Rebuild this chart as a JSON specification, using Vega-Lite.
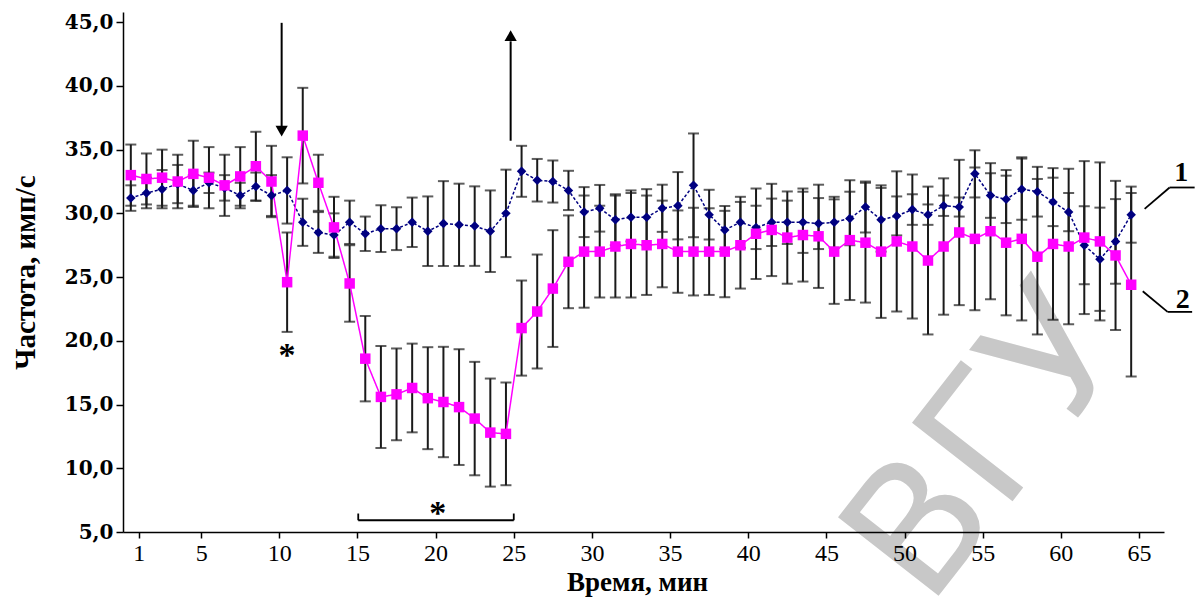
{
 "$schema": "https://vega.github.io/schema/vega-lite/v6.json",
 "width": 1041,
 "height": 520,
 "autosize": {"type": "none"},
 "padding": {"left": 123, "top": 12, "right": 34, "bottom": 67},
 "background": "white",
 "config": {"view": {"stroke": null}},
 "datasets": {
  "d": [
   {"t":0.5,"s":"1","m":31.2,"sd":1.0},{"t":1.5,"s":"1","m":31.6,"sd":1.2},{"t":2.5,"s":"1","m":31.9,"sd":1.5},{"t":3.5,"s":"1","m":32.3,"sd":1.5},{"t":4.5,"s":"1","m":31.8,"sd":1.2},
   {"t":5.5,"s":"1","m":32.4,"sd":0.8},{"t":6.5,"s":"1","m":32.0,"sd":1.0},{"t":7.5,"s":"1","m":31.4,"sd":1.0},{"t":8.5,"s":"1","m":32.1,"sd":1.1},{"t":9.5,"s":"1","m":31.4,"sd":1.6},
   {"t":10.5,"s":"1","m":31.8,"sd":2.6},{"t":11.5,"s":"1","m":29.3,"sd":1.85},{"t":12.5,"s":"1","m":28.5,"sd":1.6},{"t":13.5,"s":"1","m":28.3,"sd":1.7},{"t":14.5,"s":"1","m":29.3,"sd":1.7},
   {"t":15.5,"s":"1","m":28.4,"sd":1.35},{"t":16.5,"s":"1","m":28.8,"sd":1.83},{"t":17.5,"s":"1","m":28.8,"sd":1.68},{"t":18.5,"s":"1","m":29.3,"sd":1.94},{"t":19.5,"s":"1","m":28.6,"sd":2.73},
   {"t":20.5,"s":"1","m":29.2,"sd":3.33},{"t":21.5,"s":"1","m":29.1,"sd":3.23},{"t":22.5,"s":"1","m":29.0,"sd":3.12},{"t":23.5,"s":"1","m":28.6,"sd":3.2},{"t":24.5,"s":"1","m":30.0,"sd":3.43},
   {"t":25.5,"s":"1","m":33.3,"sd":2.0},{"t":26.5,"s":"1","m":32.6,"sd":1.67},{"t":27.5,"s":"1","m":32.5,"sd":1.65},{"t":28.5,"s":"1","m":31.8,"sd":1.54},{"t":29.5,"s":"1","m":30.1,"sd":1.96},
   {"t":30.5,"s":"1","m":30.4,"sd":1.83},{"t":31.5,"s":"1","m":29.5,"sd":2.0},{"t":32.5,"s":"1","m":29.7,"sd":1.9},{"t":33.5,"s":"1","m":29.7,"sd":2.2},{"t":34.5,"s":"1","m":30.4,"sd":1.85},
   {"t":35.5,"s":"1","m":30.6,"sd":2.64},{"t":36.5,"s":"1","m":32.2,"sd":4.07},{"t":37.5,"s":"1","m":29.9,"sd":1.95},{"t":38.5,"s":"1","m":28.7,"sd":1.5},{"t":39.5,"s":"1","m":29.3,"sd":2.0},
   {"t":40.5,"s":"1","m":28.9,"sd":1.7},{"t":41.5,"s":"1","m":29.3,"sd":1.86},{"t":42.5,"s":"1","m":29.3,"sd":1.7},{"t":43.5,"s":"1","m":29.3,"sd":2.4},{"t":44.5,"s":"1","m":29.2,"sd":2.0},
   {"t":45.5,"s":"1","m":29.3,"sd":2.0},{"t":46.5,"s":"1","m":29.6,"sd":2.1},{"t":47.5,"s":"1","m":30.5,"sd":2.0},{"t":48.5,"s":"1","m":29.5,"sd":2.5},{"t":49.5,"s":"1","m":29.8,"sd":1.53},
   {"t":50.5,"s":"1","m":30.3,"sd":1.2},{"t":51.5,"s":"1","m":29.9,"sd":0.8},{"t":52.5,"s":"1","m":30.6,"sd":0.8},{"t":53.5,"s":"1","m":30.5,"sd":0.75},{"t":54.5,"s":"1","m":33.1,"sd":1.85},
   {"t":55.5,"s":"1","m":31.4,"sd":1.75},{"t":56.5,"s":"1","m":31.1,"sd":1.86},{"t":57.5,"s":"1","m":31.9,"sd":2.4},{"t":58.5,"s":"1","m":31.7,"sd":1.95},{"t":59.5,"s":"1","m":30.9,"sd":1.9},
   {"t":60.5,"s":"1","m":30.1,"sd":1.5},{"t":61.5,"s":"1","m":27.5,"sd":3.06},{"t":62.5,"s":"1","m":26.4,"sd":4.05},{"t":63.5,"s":"1","m":27.8,"sd":3.32},{"t":64.5,"s":"1","m":29.9,"sd":2.2},
   {"t":0.5,"s":"2","m":33.0,"sd":2.4},{"t":1.5,"s":"2","m":32.7,"sd":2.0},{"t":2.5,"s":"2","m":32.8,"sd":2.2},{"t":3.5,"s":"2","m":32.5,"sd":2.1},{"t":4.5,"s":"2","m":33.1,"sd":2.6},
   {"t":5.5,"s":"2","m":32.8,"sd":2.4},{"t":6.5,"s":"2","m":32.2,"sd":2.4},{"t":7.5,"s":"2","m":32.9,"sd":2.3},{"t":8.5,"s":"2","m":33.7,"sd":2.7},{"t":9.5,"s":"2","m":32.5,"sd":2.8},
   {"t":10.5,"s":"2","m":24.6,"sd":3.9},{"t":11.5,"s":"2","m":36.1,"sd":3.75},{"t":12.5,"s":"2","m":32.4,"sd":2.2},{"t":13.5,"s":"2","m":28.9,"sd":2.4},{"t":14.5,"s":"2","m":24.5,"sd":3.0},
   {"t":15.5,"s":"2","m":18.6,"sd":3.35},{"t":16.5,"s":"2","m":15.6,"sd":4.0},{"t":17.5,"s":"2","m":15.8,"sd":3.6},{"t":18.5,"s":"2","m":16.3,"sd":3.48},{"t":19.5,"s":"2","m":15.5,"sd":4.0},
   {"t":20.5,"s":"2","m":15.2,"sd":4.33},{"t":21.5,"s":"2","m":14.8,"sd":4.54},{"t":22.5,"s":"2","m":13.9,"sd":4.45},{"t":23.5,"s":"2","m":12.8,"sd":4.24},{"t":24.5,"s":"2","m":12.7,"sd":4.03},
   {"t":25.5,"s":"2","m":21.0,"sd":3.73},{"t":26.5,"s":"2","m":22.3,"sd":4.47},{"t":27.5,"s":"2","m":24.1,"sd":4.58},{"t":28.5,"s":"2","m":26.2,"sd":3.64},{"t":29.5,"s":"2","m":27.0,"sd":4.4},
   {"t":30.5,"s":"2","m":27.0,"sd":3.6},{"t":31.5,"s":"2","m":27.4,"sd":4.0},{"t":32.5,"s":"2","m":27.6,"sd":4.2},{"t":33.5,"s":"2","m":27.5,"sd":3.9},{"t":34.5,"s":"2","m":27.6,"sd":3.4},
   {"t":35.5,"s":"2","m":27.0,"sd":3.23},{"t":36.5,"s":"2","m":27.0,"sd":3.44},{"t":37.5,"s":"2","m":27.0,"sd":3.4},{"t":38.5,"s":"2","m":27.0,"sd":3.58},{"t":39.5,"s":"2","m":27.5,"sd":3.4},
   {"t":40.5,"s":"2","m":28.4,"sd":3.55},{"t":41.5,"s":"2","m":28.7,"sd":3.62},{"t":42.5,"s":"2","m":28.1,"sd":3.62},{"t":43.5,"s":"2","m":28.3,"sd":3.65},{"t":44.5,"s":"2","m":28.2,"sd":4.05},
   {"t":45.5,"s":"2","m":27.0,"sd":4.1},{"t":46.5,"s":"2","m":27.9,"sd":4.7},{"t":47.5,"s":"2","m":27.7,"sd":4.7},{"t":48.5,"s":"2","m":27.0,"sd":5.2},{"t":49.5,"s":"2","m":27.8,"sd":5.5},
   {"t":50.5,"s":"2","m":27.4,"sd":5.65},{"t":51.5,"s":"2","m":26.3,"sd":5.8},{"t":52.5,"s":"2","m":27.4,"sd":5.35},{"t":53.5,"s":"2","m":28.5,"sd":5.7},{"t":54.5,"s":"2","m":28.0,"sd":5.6},
   {"t":55.5,"s":"2","m":28.6,"sd":5.34},{"t":56.5,"s":"2","m":27.7,"sd":5.7},{"t":57.5,"s":"2","m":28.0,"sd":6.4},{"t":58.5,"s":"2","m":26.6,"sd":6.1},{"t":59.5,"s":"2","m":27.6,"sd":5.95},
   {"t":60.5,"s":"2","m":27.4,"sd":6.1},{"t":61.5,"s":"2","m":28.1,"sd":6.0},{"t":62.5,"s":"2","m":27.8,"sd":6.2},{"t":63.5,"s":"2","m":26.7,"sd":5.85},{"t":64.5,"s":"2","m":24.4,"sd":7.2}
  ],
  "segs": [
   {"x":15.05,"x2":25.0,"y":5.92,"y2":5.92},
   {"x":15.05,"x2":15.05,"y":5.92,"y2":6.45},
   {"x":25.0,"x2":25.0,"y":5.92,"y2":6.45},
   {"x":65.36,"x2":66.96,"y":30.35,"y2":32.03},
   {"x":66.96,"x2":68.56,"y":32.03,"y2":32.03},
   {"x":65.24,"x2":66.83,"y":23.89,"y2":22.27},
   {"x":66.83,"x2":68.4,"y":22.27,"y2":22.27}
  ],
  "stars": [
   {"x":10.5,"y":18.0,"txt":"*"},
   {"x":20.14,"y":5.6,"txt":"*"}
  ],
  "nums": [
   {"x":67.7,"y":33.2,"txt":"1"},
   {"x":67.8,"y":23.2,"txt":"2"}
  ]
 },
 "layer": [
  {
   "data": {"values": [{"x":55.4,"y":11.8,"txt":"ВГУ"}]},
   "mark": {"type":"text","font":"DejaVu Sans","fontSize":175,"angle":-52,"align":"center","baseline":"middle","color":"#c8c8c8"},
   "encoding": {
    "x": {"field":"x","type":"quantitative","title":"Время, мин","scale":{"domain":[0,66.6],"nice":false,"zero":false},
      "axis":{"values":[1,5,10,15,20,25,30,35,40,45,50,55,60,65],"grid":false,"zindex":1,
        "domainColor":"black","domainWidth":1.5,"tickColor":"black","tickWidth":1.5,"tickSize":6,
        "labelFont":"Liberation Serif","labelFontSize":24,"labelColor":"black","labelPadding":3,
        "titleFont":"Liberation Serif","titleFontSize":27,"titleFontWeight":"bold","titleColor":"black",
        "titleX":514,"titleY":50,"titleBaseline":"middle","titleAlign":"center"}},
    "y": {"field":"y","type":"quantitative","title":"Частота, имп/с","scale":{"domain":[5,45.8],"nice":false,"zero":false},
      "axis":{"values":[5,10,15,20,25,30,35,40,45],"grid":false,"zindex":1,
        "labelExpr":"replace(format(datum.value, '.1f'), '.', ',')",
        "domainColor":"black","domainWidth":1.5,"tickColor":"black","tickWidth":1.5,"tickSize":7,
        "labelFont":"DejaVu Serif","labelFontSize":20,"labelFontWeight":"bold","labelColor":"black","labelPadding":3,
        "titleFont":"Liberation Serif","titleFontSize":29,"titleFontWeight":"bold","titleColor":"black",
        "titleX":-98,"titleY":260,"titleAngle":-90,"titleBaseline":"middle","titleAlign":"center"}},
    "text": {"field":"txt"}
   }
  },
  {
   "data": {"name":"d"},
   "mark": {"type":"errorbar","color":"#1a1a1a","ticks":{"size":11,"thickness":2,"color":"#1a1a1a"},"rule":{"strokeWidth":2,"color":"#1a1a1a"}},
   "encoding": {
    "x": {"field":"t","type":"quantitative","title":"Время, мин"},
    "y": {"field":"m","type":"quantitative","title":"Частота, имп/с"},
    "yError": {"field":"sd"}
   }
  },
  {
   "data": {"name":"d"},
   "mark": {"type":"line","strokeWidth":1.5},
   "encoding": {
    "x": {"field":"t","type":"quantitative","title":"Время, мин"},
    "y": {"field":"m","type":"quantitative","title":"Частота, имп/с"},
    "color": {"field":"s","type":"nominal","scale":{"domain":["1","2"],"range":["#000080","#ff00ff"]},"legend":null},
    "strokeDash": {"field":"s","type":"nominal","scale":{"domain":["1","2"],"range":[[3,2],[1,0]]},"legend":null}
   }
  },
  {
   "data": {"name":"d"},
   "mark": {"type":"point","filled":true,"opacity":1},
   "encoding": {
    "x": {"field":"t","type":"quantitative","title":"Время, мин"},
    "y": {"field":"m","type":"quantitative","title":"Частота, имп/с"},
    "color": {"field":"s","type":"nominal","scale":{"domain":["1","2"],"range":["#000080","#ff00ff"]},"legend":null},
    "shape": {"field":"s","type":"nominal","scale":{"domain":["1","2"],"range":["diamond","square"]},"legend":null},
    "size": {"field":"s","type":"nominal","scale":{"domain":["1","2"],"range":[90,110]},"legend":null}
   }
  },
  {
   "data": {"values": [{"x":10.15,"y":44.95,"y2":36.8},{"x":24.8,"y":35.7,"y2":43.5}]},
   "mark": {"type":"rule","color":"black","strokeWidth":2},
   "encoding": {
    "x": {"field":"x","type":"quantitative","title":"Время, мин"},
    "y": {"field":"y","type":"quantitative","title":"Частота, имп/с"},
    "y2": {"field":"y2"}
   }
  },
  {
   "data": {"values": [{"x":10.15,"y":36.45}]},
   "mark": {"type":"point","shape":"triangle-down","filled":true,"color":"black","size":150,"opacity":1},
   "encoding": {
    "x": {"field":"x","type":"quantitative","title":"Время, мин"},
    "y": {"field":"y","type":"quantitative","title":"Частота, имп/с"}
   }
  },
  {
   "data": {"values": [{"x":24.8,"y":43.95}]},
   "mark": {"type":"point","shape":"triangle-up","filled":true,"color":"black","size":150,"opacity":1},
   "encoding": {
    "x": {"field":"x","type":"quantitative","title":"Время, мин"},
    "y": {"field":"y","type":"quantitative","title":"Частота, имп/с"}
   }
  },
  {
   "data": {"name":"segs"},
   "mark": {"type":"rule","color":"black","strokeWidth":1.8},
   "encoding": {
    "x": {"field":"x","type":"quantitative","title":"Время, мин"},
    "x2": {"field":"x2"},
    "y": {"field":"y","type":"quantitative","title":"Частота, имп/с"},
    "y2": {"field":"y2"}
   }
  },
  {
   "data": {"name":"stars"},
   "mark": {"type":"text","font":"Liberation Serif","fontSize":34,"fontWeight":"bold","color":"black","align":"center","baseline":"alphabetic"},
   "encoding": {
    "x": {"field":"x","type":"quantitative","title":"Время, мин"},
    "y": {"field":"y","type":"quantitative","title":"Частота, имп/с"},
    "text": {"field":"txt"}
   }
  },
  {
   "data": {"name":"nums"},
   "mark": {"type":"text","font":"Liberation Serif","fontSize":28,"fontWeight":"bold","color":"black","align":"center","baseline":"middle"},
   "encoding": {
    "x": {"field":"x","type":"quantitative","title":"Время, мин"},
    "y": {"field":"y","type":"quantitative","title":"Частота, имп/с"},
    "text": {"field":"txt"}
   }
  }
 ]
}
